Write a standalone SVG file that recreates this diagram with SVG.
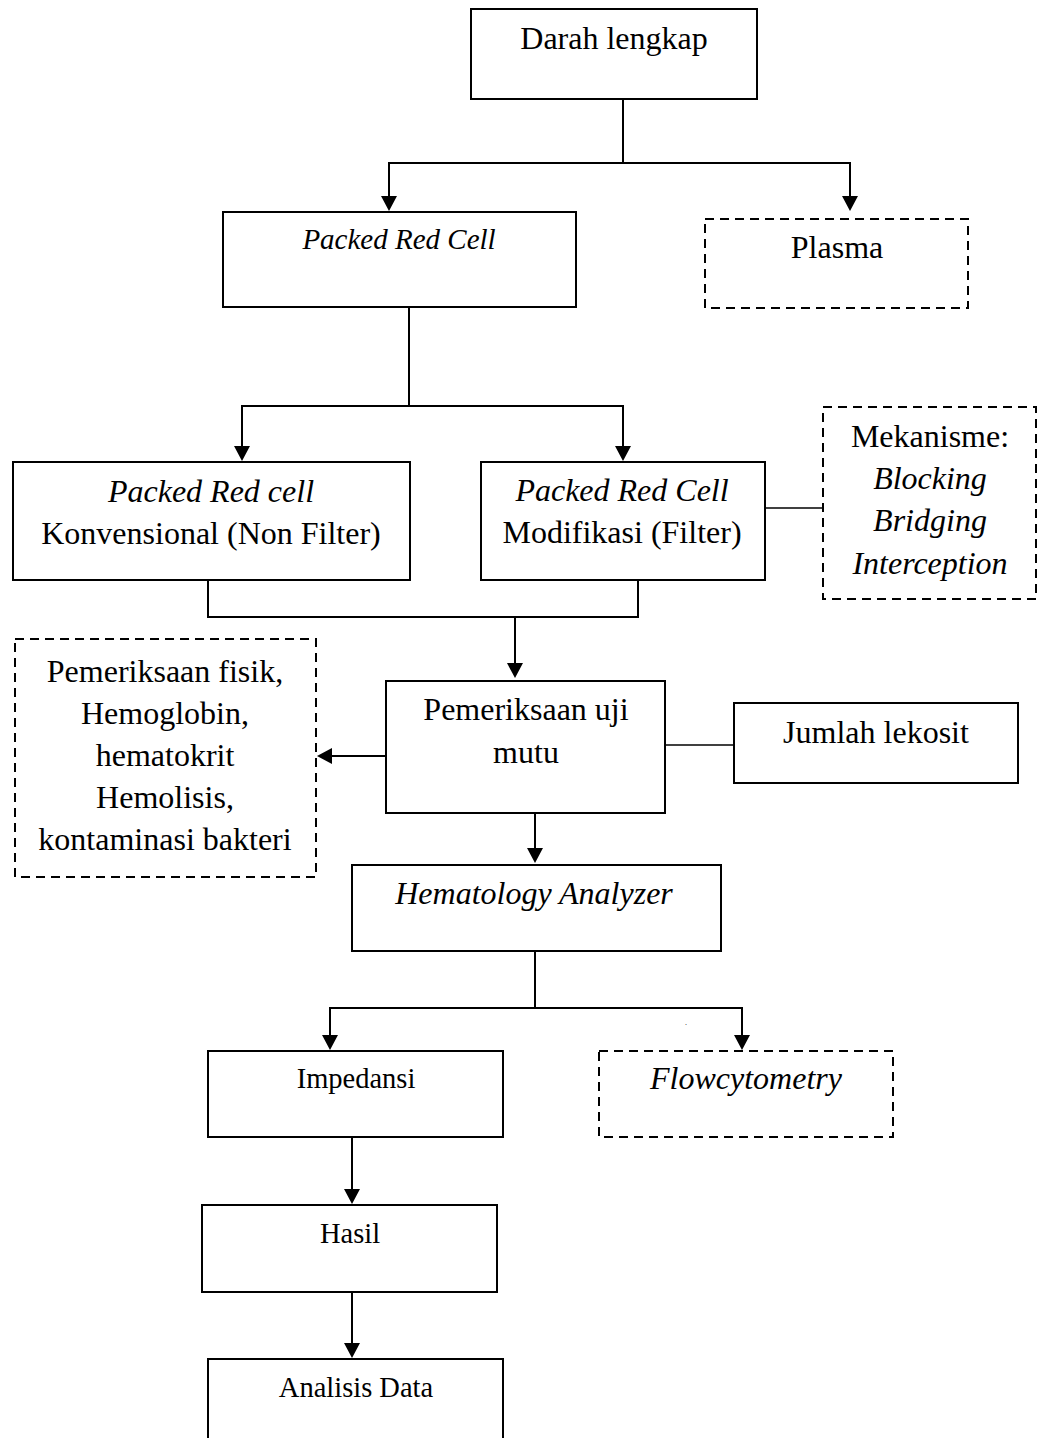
<svg xmlns="http://www.w3.org/2000/svg" width="1038" height="1438" viewBox="0 0 1038 1438">
<style>
  .box { fill: #ffffff; stroke: #000000; stroke-width: 2; }
  .dash { fill: #ffffff; stroke: #000000; stroke-width: 2; stroke-dasharray: 9 6; }
  .t { font-family: "Liberation Serif", "Times New Roman", serif; font-size: 32px; fill: #000000; text-anchor: middle; }
  .i { font-style: italic; }
  .s { font-size: 28.5px; }
  .conn { fill: none; stroke: #000000; stroke-width: 2; }
  .thin { stroke-width: 1.5; }
</style>
<defs>
  <marker id="arr" markerUnits="userSpaceOnUse" viewBox="0 0 15 16" markerWidth="15" markerHeight="16" refX="11" refY="8" orient="auto">
    <path d="M0,0 L15,8 L0,16 z" fill="#000000"/>
  </marker>
</defs>
<rect width="1038" height="1438" fill="#ffffff"/>

<g id="connectors">
  <path class="conn" d="M623,99 V163 H389 V207" marker-end="url(#arr)"/>
  <path class="conn" d="M623,163 H850 V207" marker-end="url(#arr)"/>
  <path class="conn" d="M409,307 V406 H242 V457" marker-end="url(#arr)"/>
  <path class="conn" d="M409,406 H623 V457" marker-end="url(#arr)"/>
  <path class="conn thin" d="M765,508 H822"/>
  <path class="conn" d="M208,580 V617 H638 V580"/>
  <path class="conn" d="M515,617 V674" marker-end="url(#arr)"/>
  <path class="conn" d="M386,756 H321" marker-end="url(#arr)"/>
  <path class="conn thin" d="M665,745 H734"/>
  <path class="conn" d="M535,813 V859" marker-end="url(#arr)"/>
  <path class="conn" d="M535,951 V1008 H330 V1046" marker-end="url(#arr)"/>
  <path class="conn" d="M535,1008 H742 V1046" marker-end="url(#arr)"/>
  <path class="conn" d="M352,1137 V1200" marker-end="url(#arr)"/>
  <path class="conn" d="M352,1292 V1354" marker-end="url(#arr)"/>
</g>

<g id="node-darah">
  <rect class="box" x="471" y="9" width="286" height="90"/>
  <text class="t" x="614" y="49">Darah lengkap</text>
</g>

<g id="node-prc">
  <rect class="box" x="223" y="212" width="353" height="95"/>
  <text class="t i" x="399" y="249" style="font-size:29px">Packed Red Cell</text>
</g>

<g id="node-plasma">
  <rect class="dash" x="705" y="219" width="263" height="89"/>
  <text class="t" x="837" y="258">Plasma</text>
</g>

<g id="node-prc-konv">
  <rect class="box" x="13" y="462" width="397" height="118"/>
  <text class="t i" x="211" y="502">Packed Red cell</text>
  <text class="t" x="211" y="544">Konvensional (Non Filter)</text>
</g>

<g id="node-prc-mod">
  <rect class="box" x="481" y="462" width="284" height="118"/>
  <text class="t i" x="622" y="501">Packed Red Cell</text>
  <text class="t" x="622" y="543">Modifikasi (Filter)</text>
</g>

<g id="node-mekanisme">
  <rect class="dash" x="823" y="407" width="213" height="192"/>
  <text class="t" x="930" y="447">Mekanisme:</text>
  <text class="t i" x="930" y="489">Blocking</text>
  <text class="t i" x="930" y="531">Bridging</text>
  <text class="t i" x="930" y="574">Interception</text>
</g>

<g id="node-pemeriksaan-fisik">
  <rect class="dash" x="15" y="639" width="301" height="238"/>
  <text class="t" x="165" y="682">Pemeriksaan fisik,</text>
  <text class="t" x="165" y="724">Hemoglobin,</text>
  <text class="t" x="165" y="766">hematokrit</text>
  <text class="t" x="165" y="808">Hemolisis,</text>
  <text class="t" x="165" y="850">kontaminasi bakteri</text>
</g>

<g id="node-uji-mutu">
  <rect class="box" x="386" y="681" width="279" height="132"/>
  <text class="t" x="526" y="720">Pemeriksaan uji</text>
  <text class="t" x="526" y="763">mutu</text>
</g>

<g id="node-lekosit">
  <rect class="box" x="734" y="703" width="284" height="80"/>
  <text class="t" x="876" y="743">Jumlah lekosit</text>
</g>

<g id="node-hematology">
  <rect class="box" x="352" y="865" width="369" height="86"/>
  <text class="t i" x="534" y="904">Hematology Analyzer</text>
</g>

<text class="t" x="686" y="1025" style="font-size:8px">.</text>

<g id="node-impedansi">
  <rect class="box" x="208" y="1051" width="295" height="86"/>
  <text class="t s" x="356" y="1088">Impedansi</text>
</g>

<g id="node-flowcytometry">
  <rect class="dash" x="599" y="1051" width="294" height="86"/>
  <text class="t i" x="746" y="1089">Flowcytometry</text>
</g>

<g id="node-hasil">
  <rect class="box" x="202" y="1205" width="295" height="87"/>
  <text class="t s" x="350" y="1243">Hasil</text>
</g>

<g id="node-analisis">
  <rect class="box" x="208" y="1359" width="295" height="100"/>
  <text class="t s" x="356" y="1397">Analisis Data</text>
</g>
</svg>
